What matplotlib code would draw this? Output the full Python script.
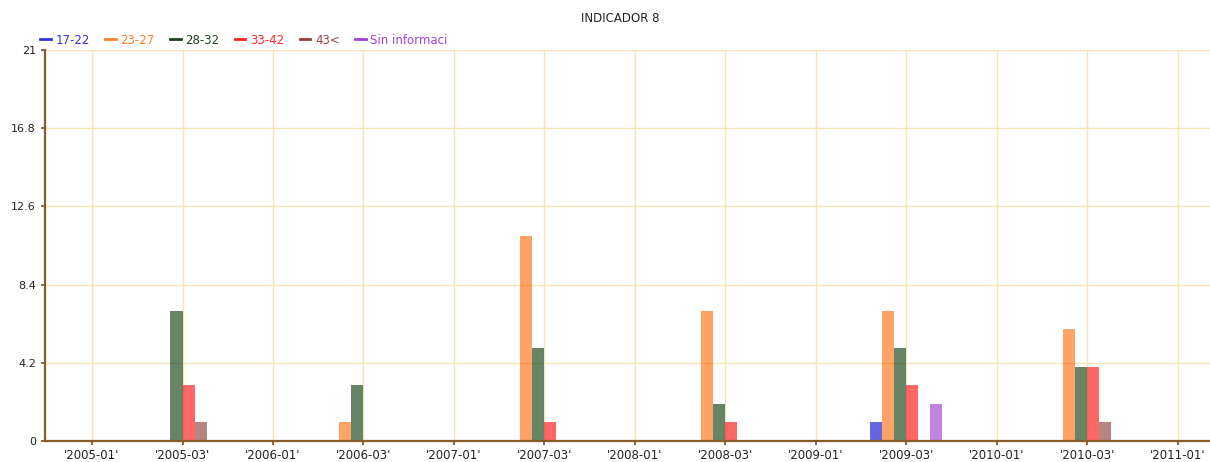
import numpy as np
import matplotlib
matplotlib.use("Agg")
import matplotlib.pyplot as plt
from matplotlib.lines import Line2D

categories = ["'2005-01'", "'2005-03'", "'2006-01'", "'2006-03'", "'2007-01'",
              "'2007-03'", "'2008-01'", "'2008-03'", "'2009-01'", "'2009-03'",
              "'2010-01'", "'2010-03'", "'2011-01'"]
series_names = ["17-22", "23-27", "28-32", "33-42", "43<", "Sin informaci"]

v_17_22 = [0, 0, 0, 0, 0, 0, 0, 0, 0, 1, 0, 0, 0]
v_23_27 = [0, 0, 0, 1, 0, 11, 0, 7, 0, 7, 0, 6, 0]
v_28_32 = [0, 7, 0, 3, 0, 5, 0, 2, 0, 5, 0, 4, 0]
v_33_42 = [0, 3, 0, 0, 0, 1, 0, 1, 0, 3, 0, 4, 0]
v_43 = [0, 1, 0, 0, 0, 0, 0, 0, 0, 0, 0, 1, 0]
v_sin = [0, 0, 0, 0, 0, 0, 0, 0, 0, 2, 0, 0, 0]
yticks = [0, 4.2, 8.4, 12.6, 16.8, 21]

values = [v_17_22, v_23_27, v_28_32, v_33_42, v_43, v_sin]
line_colors = ["#3333dd", "#ff7f2a", "#1f3f1f", "#ff2222", "#993f3f", "#a53fdd"]
bar_colors = ["#0000cc", "#ff6600", "#003300", "#ff0000", "#883333", "#9933cc"]
axis_col = "#8b5a2b"
grid_col = "#f7dfa5"

fig = plt.figure(figsize=(12.1, 4.62), dpi=100)
ax = fig.add_axes([45 / 1210, 1 - 441 / 462, 1176 / 1210, 391 / 462])

x = np.arange(len(categories))
w = 0.8 / 6
for i, (vals, c) in enumerate(zip(values, bar_colors)):
    ax.bar(x + (i - 2.5) * w, vals, width=w, color=c, alpha=0.6,
           edgecolor="none", zorder=3)

ax.set_xlim(-0.52, len(categories) - 0.52)
ax.set_ylim(0, 21)
ax.set_xticks(x, labels=categories)
ax.set_yticks(yticks, labels=["0", "4.2", "8.4", "12.6", "16.8", "21"])
ax.grid(color=grid_col, linewidth=1, alpha=0.8, zorder=1)
ax.set_axisbelow(True)

for s in ["top", "right"]:
    ax.spines[s].set_visible(False)
for s in ["left", "bottom"]:
    ax.spines[s].set_color(axis_col)
    ax.spines[s].set_linewidth(1.6)
    ax.spines[s].set_zorder(4)
ax.tick_params(colors=axis_col, labelcolor="#222222", length=3, width=1.3)
ax.tick_params(axis="x", pad=3, labelsize=8.5)
ax.tick_params(axis="y", labelsize=8)

fig.text(620 / 1210, 1 - 18 / 462, "INDICADOR 8", ha="center", va="center",
         fontsize=8.5, color="#222222")

handles = [Line2D([], [], color=c, linewidth=2) for c in line_colors]
leg = fig.legend(handles, series_names, loc="center left",
                 bbox_to_anchor=(40 / 1210, 1 - 40 / 462), ncol=6,
                 frameon=False, handlelength=0.9, handletextpad=0.4,
                 columnspacing=1.3, fontsize=8.5, borderaxespad=0,
                 borderpad=0, labelcolor="linecolor")

fig.savefig("out.png", dpi=100, facecolor="white")
